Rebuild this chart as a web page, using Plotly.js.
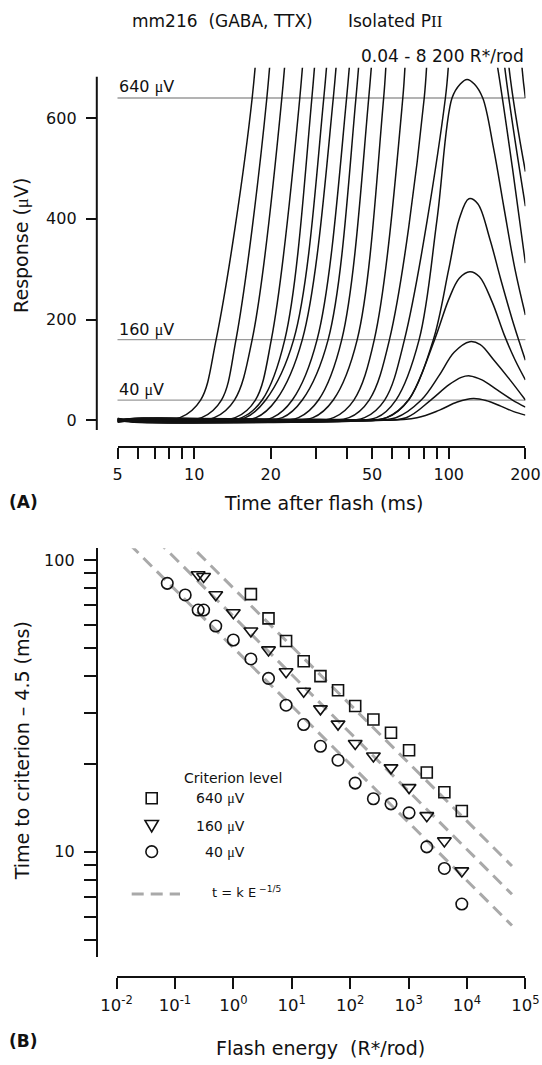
<!DOCTYPE html>
<html>
<head>
<meta charset="utf-8">
<script src="https://cdn.plot.ly/plotly-3.0.1.min.js"></script>
<style>html,body{margin:0;padding:0;background:#fff;}#chart{width:542px;height:1065px;}</style>
</head>
<body>
<div id="chart"></div>
<script>
// ---------- Panel A: isolated PII responses (time after flash in ms, response in µV) ----------
// brightest flash first (≈8192 R*/rod) down to the dimmest (0.04 R*/rod)
const traceT = [
  [5, 5.8, 6.6, 8.8, 10.6, 12.2, 16.9, 18.9],
  [5, 5.8, 8.0, 10.7, 12.8, 14.6, 19.3, 21.6],
  [5, 5.8, 9.0, 12.0, 14.4, 16.9, 22.1, 24.8],
  [5, 5.8, 10.9, 14.5, 17.4, 20.1, 26.0, 29.1],
  [5, 5.8, 11.6, 15.4, 18.5, 22.7, 29.0, 32.5],
  [5, 5.8, 11.9, 15.9, 19.1, 24.6, 32.3, 36.2],
  [5, 5.8, 13.1, 17.5, 21.0, 26.6, 35.2, 39.4],
  [5, 5.8, 15.2, 20.3, 24.3, 30.4, 39.7, 44.5],
  [5, 5.8, 16.6, 22.2, 26.6, 33.6, 43.2, 48.4],
  [5, 5.8, 19.3, 25.7, 30.8, 38.0, 48.5, 54.3],
  [5, 5.8, 22.0, 29.3, 35.2, 43.7, 55.5, 62, 115, 170, 194, 200],
  [5, 5.8, 26.5, 35.3, 42.4, 51.0, 66.0, 73, 115, 150, 172.5, 200],
  [5, 5.8, 30.4, 40.6, 48.7, 58.5, 80.1, 88, 115, 145, 166, 200],
  [5, 5.8, 35, 46.7, 56, 67, 97, 103, 115, 138, 155.7, 178, 200],
  [5, 5.8, 38, 52, 62, 76.5, 90, 103, 111, 118, 126, 136, 150, 165, 182, 200],
  [5, 5.8, 38, 57, 69.5, 87, 100, 110, 120, 130, 145, 160, 180, 200],
  [5, 5.8, 38, 57, 69.5, 88, 100, 110, 121, 132, 148, 165, 182, 200],
  [5, 5.8, 40, 62, 78, 92, 105, 121, 133, 150, 174, 200],
  [5, 5.8, 45, 68, 85, 100, 112, 121, 135, 155, 178, 200],
  [5, 5.8, 50, 75, 92, 108, 125, 140, 160, 180, 200]
];
const traceV = [
  [0, 3, 1, 5, 40, 160, 640, 1000],
  [-3, 1, 0, 5, 40, 160, 640, 1000],
  [3, -2, -1, 5, 40, 160, 640, 1000],
  [-1, 4, 2, 5, 40, 160, 640, 1000],
  [2, -3, -2, 5, 40, 160, 640, 1000],
  [-4, 0, 1, 5, 40, 160, 640, 1000],
  [3, 1, 0, 5, 40, 160, 640, 1000],
  [0, -4, -2, 5, 40, 160, 640, 1000],
  [-3, 3, 2, 5, 40, 160, 640, 1000],
  [1, -1, -1, 5, 40, 160, 640, 1000],
  [-2, 2, 1, 5, 40, 160, 640, 1000, 1700, 1200, 700, 640],
  [4, -2, -2, 5, 40, 160, 640, 1000, 1500, 1100, 700, 494],
  [0, 3, 2, 5, 40, 160, 640, 1000, 1300, 1000, 700, 425],
  [-3, -1, -1, 5, 40, 160, 640, 800, 950, 850, 700, 500, 312],
  [2, -3, 0, 5, 40, 160, 400, 640, 668, 677, 668, 640, 540, 420, 300, 209],
  [-1, 2, 1, 5, 40, 160, 300, 400, 440, 430, 360, 280, 190, 119],
  [3, -1, -2, 5, 40, 160, 240, 282, 295, 285, 235, 170, 120, 80],
  [0, 3, 1, 5, 40, 90, 135, 156, 150, 120, 80, 40],
  [-2, 0, 0, 5, 40, 70, 85, 88, 80, 60, 40, 26],
  [1, -3, -1, 5, 20, 36, 43, 39, 28, 17, 10]
];
const criterionLevels = [640, 160, 40];
const timeTicks = [5, 6, 7, 8, 9, 10, 20, 30, 40, 50, 60, 70, 80, 90, 100, 200];
const timeTickText = ['5', '', '', '', '', '10', '20', '', '', '50', '', '', '', '', '100', '200'];
const respTicks = [0, 200, 400, 600];

// ---------- Panel B: time to criterion – 4.5 ms vs flash energy ----------
const flashE = [0.074, 0.15, 0.25, 0.31, 0.5, 1, 2, 4, 8, 16, 31, 62, 122, 250, 500, 1020, 2050, 4100, 8150];
const t40 = [83.2, 75.9, 67.4, 67.4, 59.4, 53.2, 45.8, 39.3, 31.8, 27.3, 23.0, 20.6, 17.2, 15.2, 14.6, 13.6, 10.4, 8.77, 6.62];
const E160 = [0.25, 0.31, 0.5, 1, 2, 4, 8, 16, 31, 62, 122, 250, 500, 1020, 2050, 4100, 8150];
const t160 = [89.0, 87.8, 76.0, 66.0, 57.1, 49.2, 41.4, 35.5, 30.9, 27.4, 23.5, 21.3, 19.4, 16.6, 13.3, 10.9, 8.6];
const E640 = [2, 4, 8, 16, 31, 62, 122, 250, 500, 1020, 2050, 4100, 8150];
const t640 = [76.4, 63.1, 52.8, 45.0, 40.0, 35.8, 31.6, 28.4, 25.6, 22.3, 18.7, 16.0, 13.8];
const fitE = [0.01, 58900];
const fit640 = [201, 8.94];
const fit160 = [160.8, 7.15];
const fit40 = [125.6, 5.59];
const energyTicks = [0.01, 0.1, 1, 10, 100, 1000, 10000, 100000];
const energyTickText = ['10<sup>-2</sup>', '10<sup>-1</sup>', '10<sup>0</sup>', '10<sup>1</sup>', '10<sup>2</sup>', '10<sup>3</sup>', '10<sup>4</sup>', '10<sup>5</sup>'];
const critTicks = [5, 6, 7, 8, 9, 10, 20, 30, 40, 50, 60, 70, 80, 90, 100];
const critTickText = ['', '', '', '', '', '10', '', '', '', '', '', '', '', '', '100'];

// ---------- layout helpers (pixel -> paper) ----------
const W = 542, H = 1065;
const PX = x => x / W;
const PY = y => 1 - y / H;
const FONT = 'DejaVu Sans, Arial, sans-serif';
const MU = '<span style="font-family:\'Liberation Serif\', serif">μ</span>';
const INK = '#111';

const data = [];
for (let i = 0; i < traceT.length; i++) {
  data.push({
    x: traceT[i], y: traceV[i], xaxis: 'x', yaxis: 'y',
    type: 'scatter', mode: 'lines',
    line: {color: INK, width: 1.5, shape: 'spline', smoothing: 1},
    hoverinfo: 'skip', showlegend: false
  });
}
const fits = [fit640, fit160, fit40];
fits.forEach(f => data.push({
  x: fitE, y: f, xaxis: 'x2', yaxis: 'y2', type: 'scatter', mode: 'lines',
  line: {color: '#a9a9a9', width: 3, dash: '12px,7px'}, showlegend: false, hoverinfo: 'skip'
}));
const mk = (sym, size) => ({symbol: sym, size: size, color: INK, line: {color: INK, width: 1.6}});
data.push({x: E640, y: t640, xaxis: 'x2', yaxis: 'y2', type: 'scatter', mode: 'markers', marker: mk('square-open', 11), showlegend: false, cliponaxis: false});
data.push({x: E160, y: t160, xaxis: 'x2', yaxis: 'y2', type: 'scatter', mode: 'markers', marker: mk('triangle-down-open', 12), showlegend: false, cliponaxis: false});
data.push({x: flashE, y: t40, xaxis: 'x2', yaxis: 'y2', type: 'scatter', mode: 'markers', marker: mk('circle-open', 11.5), showlegend: false, cliponaxis: false});

const tickFont = {family: FONT, size: 16, color: INK};
const layout = {
  width: W, height: H, autosize: false,
  margin: {l: 0, r: 0, t: 0, b: 0},
  paper_bgcolor: '#fff', plot_bgcolor: 'rgba(0,0,0,0)',
  font: {family: FONT, color: INK},
  showlegend: false,
  xaxis: {
    type: 'log', range: [Math.log10(5), Math.log10(200)],
    domain: [PX(117.5), PX(525.4)], anchor: 'free', position: PY(446.7),
    showline: true, linewidth: 2, linecolor: INK, showgrid: false, zeroline: false,
    tickmode: 'array', tickvals: timeTicks, ticktext: timeTickText,
    ticks: 'outside', ticklen: 11, tickwidth: 2, tickcolor: INK, tickfont: tickFont,
    ticklabelstandoff: 2
  },
  yaxis: {
    range: [-19.5, 700], domain: [PY(430), PY(67.8)], anchor: 'free', position: PX(96.8),
    showline: false, showgrid: false, zeroline: false,
    tickmode: 'array', tickvals: respTicks,
    ticks: 'outside', ticklen: 11, tickwidth: 2, tickcolor: INK, tickfont: tickFont,
    ticklabelstandoff: 6
  },
  xaxis2: {
    type: 'log', range: [-2, 5], domain: [PX(116.5), PX(525.4)], anchor: 'free', position: PY(977.3),
    showline: true, linewidth: 2, linecolor: INK, showgrid: false, zeroline: false,
    tickmode: 'array', tickvals: energyTicks, ticktext: energyTickText,
    ticks: 'outside', ticklen: 11, tickwidth: 2, tickcolor: INK, tickfont: {family: FONT, size: 16.5, color: INK},
    ticklabelstandoff: 2
  },
  yaxis2: {
    type: 'log', range: [Math.log10(4.37), Math.log10(109.7)], domain: [PY(956.7), PY(548.3)],
    anchor: 'free', position: PX(96.8),
    showline: true, linewidth: 2, linecolor: INK, showgrid: false, zeroline: false,
    tickmode: 'array', tickvals: critTicks, ticktext: critTickText,
    ticks: 'outside', ticklen: 12, tickwidth: 2, tickcolor: INK, tickfont: tickFont,
    ticklabelstandoff: 6
  },
  shapes: [],
  annotations: []
};

// criterion reference lines in panel A
criterionLevels.forEach(v => layout.shapes.push({
  type: 'line', xref: 'x domain', yref: 'y', x0: 0, x1: 1, y0: v, y1: v,
  line: {color: '#9a9a9a', width: 1.3}, layer: 'below'
}));
// panel A y spine (stops short of the clipped top of the traces)
layout.shapes.push({type: 'line', xref: 'paper', yref: 'y', x0: PX(96.8), x1: PX(96.8), y0: -19.5, y1: 682,
  line: {color: INK, width: 2}});

// legend keys for panel B
layout.shapes.push({type: 'rect', xref: 'paper', yref: 'paper',
  x0: PX(146.2), x1: PX(157.2), y0: PY(803.8), y1: PY(792.8), line: {color: INK, width: 1.6}});
layout.shapes.push({type: 'path', xref: 'paper', yref: 'paper',
  path: `M ${PX(145)} ${PY(820.5)} L ${PX(158.4)} ${PY(820.5)} L ${PX(151.7)} ${PY(832)} Z`, line: {color: INK, width: 1.6}});
layout.shapes.push({type: 'circle', xref: 'paper', yref: 'paper',
  x0: PX(145.9), x1: PX(157.5), y0: PY(857.5), y1: PY(845.9), line: {color: INK, width: 1.6}});
layout.shapes.push({type: 'line', xref: 'paper', yref: 'paper',
  x0: PX(131.7), x1: PX(180), y0: PY(894), y1: PY(894), line: {color: '#a9a9a9', width: 3, dash: '12px,7px'}});

function ann(text, x, y, opts) {
  layout.annotations.push(Object.assign({
    text: text, xref: 'paper', yref: 'paper', x: PX(x), y: PY(y),
    xanchor: 'left', yanchor: 'middle', showarrow: false,
    font: {family: FONT, size: 17, color: INK}
  }, opts || {}));
}
ann('mm216\u00a0\u00a0(GABA, TTX)', 129.6, 20.7);
ann('Isolated P<span style="font-family:Liberation Serif">II</span>', 345.7, 20.7);
ann('0.04 - 8 200 R*/rod', 526, 56, {xanchor: 'right'});
ann('640 ' + MU + 'V', 117, 86.7, {font: {family: FONT, size: 16, color: INK}});
ann('160 ' + MU + 'V', 117, 329, {font: {family: FONT, size: 16, color: INK}});
ann('40 ' + MU + 'V', 117, 390, {font: {family: FONT, size: 16, color: INK}});
ann('<b>(A)</b>', 7, 502.3, {font: {family: FONT, size: 17, color: INK}});
ann('Time after flash (ms)', 323, 502.7, {xanchor: 'center', font: {family: FONT, size: 19, color: INK}});
ann('Response (' + MU + 'V)', 21.6, 245.3, {xanchor: 'center', textangle: -90, font: {family: FONT, size: 19, color: INK}});
ann('Time to criterion \u2013 4.5 (ms)', 21.6, 750.7, {xanchor: 'center', textangle: -90, font: {family: FONT, size: 19, color: INK}});
ann('Flash energy\u00a0\u00a0(R*/rod)', 320.5, 1048.3, {xanchor: 'center', font: {family: FONT, size: 19, color: INK}});
ann('<b>(B)</b>', 7, 1040.7, {font: {family: FONT, size: 17, color: INK}});
ann('Criterion level', 181.7, 778.3, {font: {family: FONT, size: 14, color: INK}});
ann('640 ' + MU + 'V', 246.7, 798.3, {xanchor: 'right', font: {family: FONT, size: 14, color: INK}});
ann('160 ' + MU + 'V', 246.7, 826, {xanchor: 'right', font: {family: FONT, size: 14, color: INK}});
ann('40 ' + MU + 'V', 246.7, 851.7, {xanchor: 'right', font: {family: FONT, size: 14, color: INK}});
ann('t = k E<sup> \u22121/5</sup>', 210, 892, {font: {family: FONT, size: 13, color: INK}});

Plotly.newPlot('chart', data, layout, {staticPlot: true, displayModeBar: false});
</script>
</body>
</html>
